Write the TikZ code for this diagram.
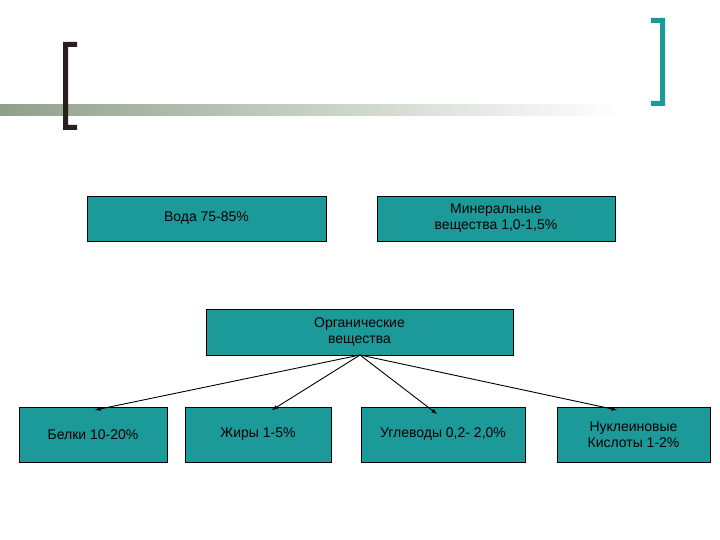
\documentclass[tikz,border=0pt]{standalone}
\usepackage{fontspec}
\setmainfont{Liberation Sans}
\definecolor{teal1}{HTML}{1B9A99}
\definecolor{brk}{HTML}{2A1F1F}
\definecolor{bar}{HTML}{8FA08A}
\begin{document}
\begin{tikzpicture}[x=1pt,y=-1pt,
  box/.style={draw=black,fill=teal1,line width=0.8pt,inner sep=0pt,align=center,font=\fontsize{14}{16}\selectfont},
  arr/.style={-latex,line width=0.9pt}]
\useasboundingbox (0,0) rectangle (720,540);
\fill[white] (0,0) rectangle (720,540);
% decoration
\shade[left color=bar,right color=white] (0,105) rectangle (620,116);
\fill[brk] (63,42) rectangle (68,130) (63,42) rectangle (77,47) (63,125) rectangle (77,130);
\fill[teal1] (660,18) rectangle (665,106) (651,18) rectangle (665,23) (651,101) rectangle (665,106);
% boxes
\node[box,minimum width=239pt,minimum height=45pt] (voda) at (206.5,218.5) {Вода 75-85\%};
\node[box,minimum width=238pt,minimum height=45pt] (min) at (496,218.5) {Минеральные\\вещества 1,0-1,5\%};
\node[box,minimum width=307pt,minimum height=46pt] (org) at (359.5,332) {Органические\\вещества};
\node[box,minimum width=148pt,minimum height=55pt] (bel) at (93,434.5) {Белки 10-20\%};
\node[box,minimum width=146pt,minimum height=55pt] (jir) at (258,434.5) {Жиры 1-5\%};
\node[box,minimum width=164pt,minimum height=55pt] (ugl) at (443,434.5) {Углеводы 0,2- 2,0\%};
\node[box,minimum width=153pt,minimum height=55pt] (nuk) at (633.5,434.5) {Нуклеиновые\\Кислоты 1-2\%};
\coordinate (o) at (360,355);
\draw[arr] (o) -- (95,410);
\draw[arr] (o) -- (272,410);
\draw[arr] (o) -- (437,414);
\draw[arr] (o) -- (617,410);
\end{tikzpicture}
\end{document}
